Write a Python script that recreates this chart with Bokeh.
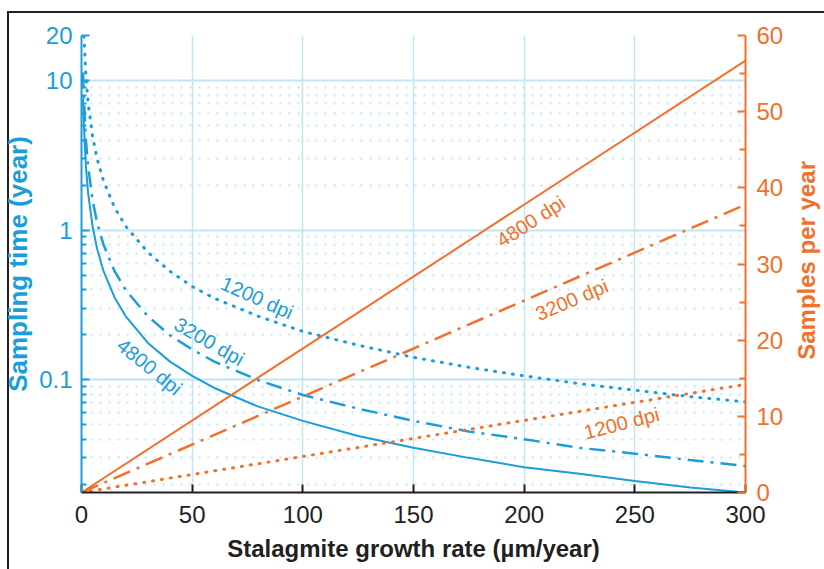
import math
from bokeh.plotting import figure
from bokeh.layouts import row
from bokeh.models import Range1d, LinearAxis, FixedTicker, Label, LinearScale
from bokeh.embed import file_html
from bokeh.resources import INLINE

# ---------------- data ----------------
growth = [0.7, 1, 2, 3, 5, 7, 10, 15, 20, 30, 40, 50, 60, 80, 100, 125,
          150, 175, 200, 225, 250, 275, 300]
time_4800 = [7.56, 5.29, 2.65, 1.76, 1.06, 0.756, 0.529, 0.353, 0.265, 0.176,
             0.132, 0.106, 0.088, 0.066, 0.053, 0.042, 0.035, 0.030, 0.026,
             0.0235, 0.021, 0.019, 0.0176]
time_3200 = [11.3, 7.94, 3.97, 2.65, 1.59, 1.13, 0.794, 0.529, 0.397, 0.265,
             0.198, 0.159, 0.132, 0.099, 0.079, 0.064, 0.053, 0.045, 0.040,
             0.035, 0.032, 0.029, 0.0265]
time_1200 = [30.0, 21.2, 10.6, 7.06, 4.23, 3.02, 2.12, 1.41, 1.06, 0.71,
             0.53, 0.42, 0.35, 0.265, 0.21, 0.17, 0.141, 0.121, 0.106,
             0.094, 0.085, 0.077, 0.071]

rate_x = [0, 300]
samples_4800 = [0, 56.7]
samples_3200 = [0, 37.8]
samples_1200 = [0, 14.2]

x_ticks = [0, 50, 100, 150, 200, 250, 300]
left_ticks = [0.1, 1, 10, 20]
left_tick_labels = ["0.1", "1", "10", "20"]
left_minor = [0.02, 0.03, 0.04, 0.05, 0.06, 0.07, 0.08, 0.09,
              0.2, 0.3, 0.4, 0.5, 0.6, 0.7, 0.8, 0.9,
              2, 3, 4, 5, 6, 7, 8, 9]
right_ticks = [0, 10, 20, 30, 40, 50, 60]
right_minor = [5, 15, 25, 35, 45, 55]

x_label = "Stalagmite growth rate (µm/year)"
left_label = "Sampling time (year)"
right_label = "Samples per year"
dpi_labels = ["4800 dpi", "3200 dpi", "1200 dpi"]

# ---------------- styling ----------------
BLUE = "#1b9dd9"
ORANGE = "#f2702a"
DARK = "#231f20"
GRID = "#c3e4f3"
FONT = "Liberation Sans"

p = figure(width=794, height=569, x_range=Range1d(0, 300),
           y_range=Range1d(0.0176, 20), y_axis_type="log",
           output_backend="svg", toolbar_location=None,
           min_border_left=80, min_border_right=49,
           min_border_top=35, min_border_bottom=77)
p.border_fill_color = None
p.background_fill_color = "white"
p.outline_line_color = None
p.styles = {"background": (
    f"linear-gradient({DARK},{DARK}) 7px 11px/2px 560px no-repeat, "
    f"linear-gradient({DARK},{DARK}) 7px 11px/800px 2px no-repeat, #ffffff")}

p.extra_y_ranges = {"right": Range1d(0, 60)}
p.extra_y_scales = {"right": LinearScale()}

# grids
p.xgrid.ticker = FixedTicker(ticks=x_ticks[1:-1])
p.xgrid.grid_line_color = GRID
p.xgrid.grid_line_width = 1.5
p.ygrid.ticker = FixedTicker(ticks=left_ticks, minor_ticks=left_minor)
p.ygrid.grid_line_color = GRID
p.ygrid.grid_line_width = 2
p.ygrid.minor_grid_line_color = GRID
p.ygrid.minor_grid_line_width = 2
p.ygrid.minor_grid_line_dash = "2 7"

# bottom axis
xa = p.xaxis[0]
xa.ticker = FixedTicker(ticks=x_ticks)
xa.axis_line_color = DARK
xa.axis_line_width = 2
xa.major_tick_line_color = DARK
xa.major_tick_line_width = 2
xa.major_tick_in = 8
xa.major_tick_out = 0
xa.minor_tick_line_color = None
xa.major_label_text_font = FONT
xa.major_label_text_font_size = "24px"
xa.major_label_text_color = DARK
xa.major_label_standoff = 13
xa.axis_label = x_label
xa.axis_label_text_font = FONT
xa.axis_label_text_font_style = "bold"
xa.axis_label_text_font_size = "24px"
xa.axis_label_text_color = DARK
xa.axis_label_standoff = 9

# left axis
ya = p.yaxis[0]
ya.ticker = FixedTicker(ticks=left_ticks, minor_ticks=left_minor)
ya.major_label_overrides = dict(zip(left_ticks, left_tick_labels))
ya.axis_line_color = BLUE
ya.axis_line_width = 2
ya.major_tick_line_color = BLUE
ya.major_tick_line_width = 2
ya.major_tick_in = 8
ya.major_tick_out = 0
ya.minor_tick_line_color = BLUE
ya.minor_tick_line_width = 2
ya.minor_tick_in = 5
ya.minor_tick_out = 0
ya.major_label_text_font = FONT
ya.major_label_text_font_size = "24px"
ya.major_label_text_color = BLUE
ya.major_label_standoff = 9
ya.axis_label = left_label
ya.axis_label_text_font = FONT
ya.axis_label_text_font_style = "bold"
ya.axis_label_text_font_size = "26px"
ya.axis_label_text_color = BLUE
ya.axis_label_standoff = 3

# right axis
ra = LinearAxis(y_range_name="right",
                ticker=FixedTicker(ticks=right_ticks, minor_ticks=right_minor))
ra.axis_line_color = ORANGE
ra.axis_line_width = 2
ra.major_tick_line_color = ORANGE
ra.major_tick_line_width = 2
ra.major_tick_in = 8
ra.major_tick_out = 0
ra.minor_tick_line_color = ORANGE
ra.minor_tick_line_width = 2
ra.minor_tick_in = 6
ra.minor_tick_out = 0
ra.major_label_text_font = FONT
ra.major_label_text_font_size = "24px"
ra.major_label_text_color = ORANGE
ra.major_label_standoff = 11
p.add_layout(ra, "right")

# blue curves (left log axis)
p.line(growth, time_4800, line_color=BLUE, line_width=2)
p.line(growth, time_3200, line_color=BLUE, line_width=2.5, line_dash="16 7 3 7")
p.line(growth, time_1200, line_color=BLUE, line_width=3, line_dash="1 8",
       line_cap="round")

# orange lines (right linear axis)
p.line(rate_x, samples_4800, line_color=ORANGE, line_width=2, y_range_name="right")
p.line(rate_x, samples_3200, line_color=ORANGE, line_width=2.5,
       line_dash="18 7 3 7", y_range_name="right")
p.line(rate_x, samples_1200, line_color=ORANGE, line_width=3, line_dash="1 8",
       line_cap="round", y_range_name="right")

# in-plot labels
blue_pos = [(30.7, 0.122, -0.68), (57.7, 0.18, -0.52), (79.4, 0.353, -0.42)]
for txt, (x, y, a) in zip(dpi_labels, blue_pos):
    p.add_layout(Label(x=x, y=y, text=txt, angle=a, text_align="center",
                       text_baseline="middle", text_color=BLUE,
                       text_font=FONT, text_font_size="20px"))
orange_pos = [(203, 35.6, 0.57), (221.5, 25.3, 0.40), (244, 9.1, 0.25)]
for txt, (x, y, a) in zip(dpi_labels, orange_pos):
    p.add_layout(Label(x=x, y=y, text=txt, angle=a, text_align="center",
                       text_baseline="middle", text_color=ORANGE,
                       text_font=FONT, text_font_size="20px",
                       y_range_name="right"))

# narrow strip on the right carrying the right-axis title (reads bottom-to-top)
q = figure(width=30, height=569, x_range=Range1d(0, 30), y_range=Range1d(0, 569),
           output_backend="svg", toolbar_location=None,
           x_axis_location=None, y_axis_location=None, min_border=0)
q.grid.visible = False
q.outline_line_color = None
q.border_fill_color = None
q.background_fill_color = None
q.styles = {"background": (
    f"linear-gradient({DARK},{DARK}) 0px 11px/100% 2px no-repeat, #ffffff")}
q.add_layout(Label(x=12, y=289, text=right_label, angle=math.pi / 2,
                   text_align="center", text_baseline="middle",
                   text_color=ORANGE, text_font=FONT, text_font_style="bold",
                   text_font_size="24px"))

layout = row(p, q)
open("out.html", "w").write(file_html(layout, INLINE))
